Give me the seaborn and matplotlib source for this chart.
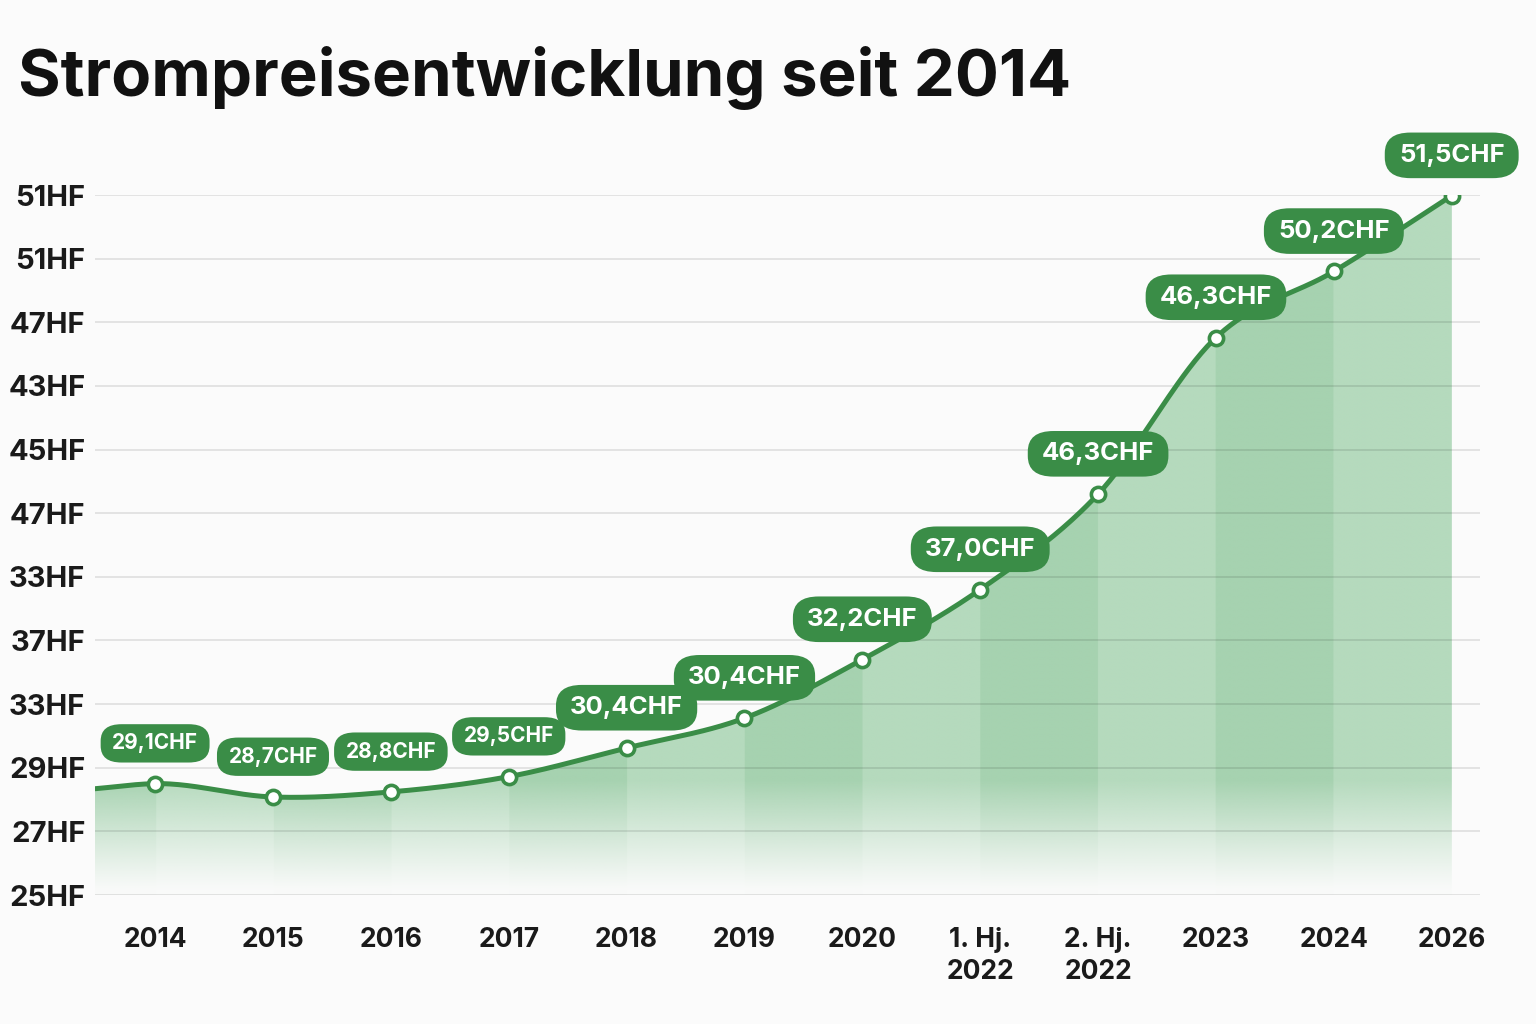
import numpy as np
import pandas as pd
import seaborn as sns
import matplotlib.pyplot as plt
from matplotlib.patches import Polygon

# Daten
perioden = ['2014', '2015', '2016', '2017', '2018', '2019', '2020',
            '1. Hj.\n2022', '2. Hj.\n2022', '2023', '2024', '2026']
# Lage der Punkte in Rasterlinien-Einheiten (0 = unterste Linie)
stufen = [1.75, 1.54, 1.62, 1.86, 2.31, 2.78, 3.70, 4.80, 6.30, 8.76, 9.80, 10.99]
preise = ['29,1CHF', '28,7CHF', '28,8CHF', '29,5CHF', '30,4CHF', '30,4CHF',
          '32,2CHF', '37,0CHF', '46,3CHF', '46,3CHF', '50,2CHF', '51,5CHF']
y_labels = ['25HF', '27HF', '29HF', '33HF', '37HF', '33HF',
            '47HF', '45HF', '43HF', '47HF', '51HF', '51HF']

GREEN = '#3a8d47'
FILL = np.array([181, 218, 189]) / 255
FILL_DARK = np.array([166, 210, 176]) / 255
BG = '#fbfbfb'

df = pd.DataFrame({'periode': perioden, 'stufe': stufen, 'preis': preise})
df['pos'] = np.arange(len(df))


def catmull(x, y, n=40):
    # glatte Kurve durch die Punkte
    x = np.asarray(x, float)
    y = np.asarray(y, float)
    m = np.gradient(y, x)
    xs, ys = [], []
    for i in range(len(x) - 1):
        t = np.linspace(0, 1, n, endpoint=False)
        h = x[i + 1] - x[i]
        h00 = 2 * t**3 - 3 * t**2 + 1
        h10 = t**3 - 2 * t**2 + t
        h01 = -2 * t**3 + 3 * t**2
        h11 = t**3 - t**2
        xs.append(x[i] + t * h)
        ys.append(h00 * y[i] + h10 * h * m[i] + h01 * y[i + 1] + h11 * h * m[i + 1])
    xs.append([x[-1]])
    ys.append([y[-1]])
    return np.concatenate(xs), np.concatenate(ys)


sns.set_theme(style='white')
plt.rcParams['font.family'] = ['Inter', 'DejaVu Sans']

fig = plt.figure(figsize=(15.36, 10.24), dpi=100, facecolor=BG)
ax = fig.add_axes([95 / 1536, 1 - 895 / 1024, (1480 - 95) / 1536, 700 / 1024])
ax.set_facecolor(BG)

x_left, x_right = -0.51, 11.24
y_top = len(y_labels) - 1

# Kurve, links bis zum Achsenrand verlaengert
xs, ys = catmull([x_left] + list(df['pos']), [df['stufe'].iloc[0] - 0.08] + list(df['stufe']))

# Flaeche mit Verlauf und Spalten-Baendern
W, H = 1200, 400
gx = np.linspace(x_left, x_right, W)
gy = np.linspace(0, y_top, H)
band = np.floor(gx).astype(int)
cols = np.where((band % 2 != 0)[:, None], FILL_DARK[None, :], FILL[None, :])
alpha = np.clip(gy / 1.8, 0.04, 1) ** 1.1
img = np.zeros((H, W, 4))
img[:, :, :3] = cols[None, :, :]
img[:, :, 3] = alpha[:, None]
im = ax.imshow(img, extent=[x_left, x_right, 0, y_top], origin='lower',
               aspect='auto', interpolation='bilinear', zorder=1)
verts = [(xs[0], 0)] + list(zip(xs, ys)) + [(xs[-1], 0)]
clip = Polygon(verts, closed=True, transform=ax.transData, fc='none', ec='none')
ax.add_patch(clip)
im.set_clip_path(clip)

sns.lineplot(x=xs, y=ys, sort=False, color=GREEN, lw=3.6, ax=ax, zorder=3)
sns.scatterplot(data=df, x='pos', y='stufe', s=105, color='white', edgecolor=GREEN,
                linewidth=2.6, ax=ax, zorder=4)

for i, r in df.iterrows():
    ax.annotate(r['preis'], (r['pos'], r['stufe']), xytext=(0, 29), textcoords='offset points',
                ha='center', va='center', color='white', fontweight='bold',
                fontsize=15 if i < 4 else 18.5,
                bbox=dict(boxstyle='round,pad=0.55,rounding_size=1.0', fc=GREEN, ec='none',
                          mutation_aspect=0.8),
                zorder=5, annotation_clip=False)

ax.set_xlim(x_left, x_right)
ax.set_ylim(0, y_top)
ax.set_yticks(range(len(y_labels)))
ax.set_yticklabels(y_labels, fontsize=21, fontweight='bold', color='#1a1a1a')
ax.set_xticks(df['pos'])
ax.set_xticklabels(df['periode'], fontsize=19, fontweight='bold', color='#1a1a1a',
                   linespacing=1.29)
ax.tick_params(axis='x', length=0, pad=23)
ax.tick_params(axis='y', length=0, pad=7)
ax.set_xlabel('')
ax.set_ylabel('')
ax.set_axisbelow(False)
ax.grid(axis='y', color='black', alpha=0.12, lw=1.1)
ax.grid(axis='x', visible=False)
sns.despine(ax=ax, left=True, bottom=True)

fig.text(18 / 1536, 1 - 78 / 1024, 'Strompreisentwicklung seit 2014', fontsize=47,
         fontweight='bold', color='#111111', ha='left', va='center')

fig.savefig('out.png', dpi=100, facecolor=BG)
